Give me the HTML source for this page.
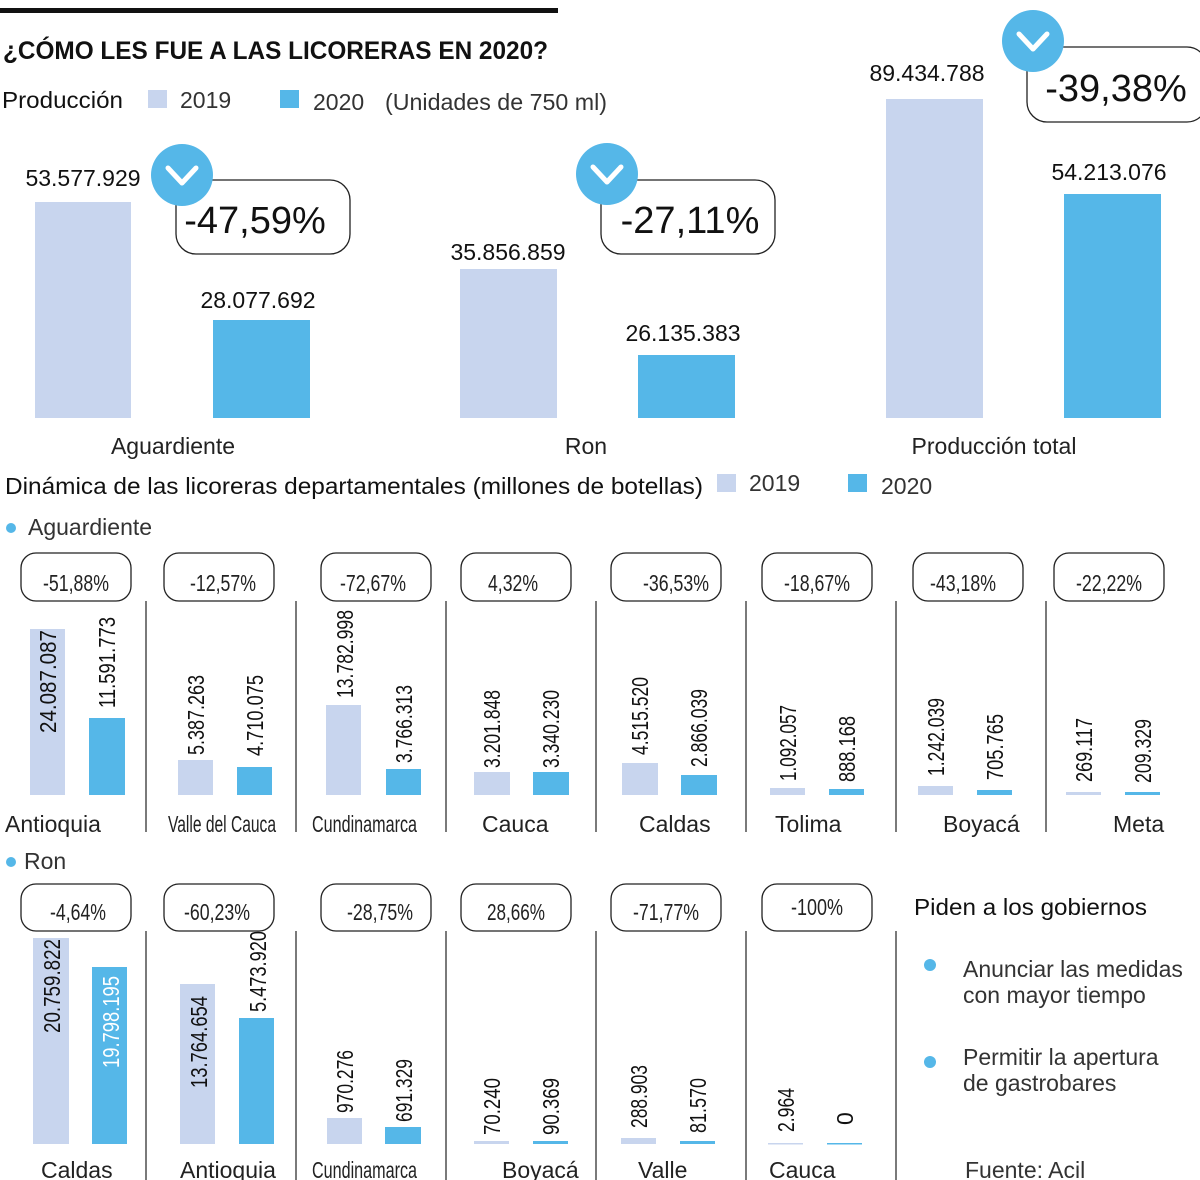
<!DOCTYPE html>
<html><head><meta charset="utf-8"><style>
html,body{margin:0;padding:0;background:#fff;}
svg{display:block;font-family:"Liberation Sans",sans-serif;}
.l{fill:#c8d5ee}.b{fill:#55b7e8}
.v{font-size:23px;fill:#111}
.p{font-size:23px;fill:#222}
.bx{fill:#fff;stroke:#222;stroke-width:1.3}
.dv{stroke:#333;stroke-width:1.3}
.cat{font-size:23px;fill:#222}
</style></head><body>
<svg width="1200" height="1180" viewBox="0 0 1200 1180" xmlns="http://www.w3.org/2000/svg">
<rect x="0" y="8" width="558" height="5" fill="#111"/>
<text x="3" y="59" font-size="25" font-weight="bold" fill="#111" textLength="545" lengthAdjust="spacingAndGlyphs">¿CÓMO LES FUE A LAS LICORERAS EN 2020?</text>
<text x="2" y="108" font-size="23" fill="#111" textLength="121" lengthAdjust="spacingAndGlyphs">Producción</text>
<rect x="148" y="90" width="19" height="18" class="l"/>
<text x="180" y="108" font-size="23" fill="#333">2019</text>
<rect x="280" y="90" width="19" height="18" class="b"/>
<text x="313" y="110" font-size="23" fill="#333">2020</text>
<text x="385" y="110" font-size="23" fill="#333" textLength="222" lengthAdjust="spacingAndGlyphs">(Unidades de 750 ml)</text>

<rect x="35" y="202" width="96" height="216" class="l"/>
<rect x="213" y="320" width="97" height="98" class="b"/>
<rect x="460" y="269" width="97" height="149" class="l"/>
<rect x="638" y="355" width="97" height="63" class="b"/>
<rect x="886" y="99" width="97" height="319" class="l"/>
<rect x="1064" y="194" width="97" height="224" class="b"/>
<g font-size="23" fill="#111" text-anchor="middle">
<text x="83" y="186">53.577.929</text>
<text x="258" y="308">28.077.692</text>
<text x="508" y="260">35.856.859</text>
<text x="683" y="341">26.135.383</text>
<text x="927" y="81">89.434.788</text>
<text x="1109" y="180">54.213.076</text>
</g>
<rect x="176" y="180" width="174" height="74" rx="20" class="bx"/>
<text x="255" y="233" font-size="38" text-anchor="middle" fill="#111">-47,59%</text>
<circle cx="182" cy="175" r="31" class="b"/>
<polyline points="168,168 182,183 196,168" fill="none" stroke="#fff" stroke-width="5" stroke-linecap="round" stroke-linejoin="round"/>
<rect x="601" y="180" width="174" height="74" rx="20" class="bx"/>
<text x="690" y="233" font-size="38" text-anchor="middle" fill="#111">-27,11%</text>
<circle cx="607" cy="174" r="31" class="b"/>
<polyline points="593,167 607,182 621,167" fill="none" stroke="#fff" stroke-width="5" stroke-linecap="round" stroke-linejoin="round"/>
<rect x="1027" y="47" width="180" height="75" rx="20" class="bx"/>
<text x="1116" y="101" font-size="38" text-anchor="middle" fill="#111">-39,38%</text>
<circle cx="1033" cy="41" r="31" class="b"/>
<polyline points="1019,34 1033,49 1047,34" fill="none" stroke="#fff" stroke-width="5" stroke-linecap="round" stroke-linejoin="round"/>
<g class="cat" text-anchor="middle">
<text x="173" y="454">Aguardiente</text>
<text x="586" y="454">Ron</text>
<text x="994" y="454">Producción total</text>
</g>

<text x="5" y="494" font-size="23" fill="#111" textLength="698" lengthAdjust="spacingAndGlyphs">Dinámica de las licoreras departamentales (millones de botellas)</text>
<rect x="717" y="474" width="19" height="18" class="l"/>
<text x="749" y="491" font-size="23" fill="#333">2019</text>
<rect x="848" y="474" width="19" height="18" class="b"/>
<text x="881" y="494" font-size="23" fill="#333">2020</text>

<circle cx="11" cy="528" r="5" class="b"/>
<text x="28" y="535" font-size="23" fill="#333">Aguardiente</text>
<circle cx="11" cy="862" r="5" class="b"/>
<text x="24" y="869" font-size="23" fill="#333">Ron</text>

<g class="dv">
<line x1="146" y1="601" x2="146" y2="832"/><line x1="296" y1="601" x2="296" y2="832"/><line x1="446" y1="601" x2="446" y2="832"/><line x1="596" y1="601" x2="596" y2="832"/><line x1="746" y1="601" x2="746" y2="832"/><line x1="896" y1="601" x2="896" y2="832"/><line x1="1046" y1="601" x2="1046" y2="832"/>
</g>
<g>
<rect x="21" y="553" width="110" height="48" rx="15" class="bx"/>
<rect x="164" y="553" width="110" height="48" rx="15" class="bx"/>
<rect x="321" y="553" width="110" height="48" rx="15" class="bx"/>
<rect x="461" y="553" width="110" height="48" rx="15" class="bx"/>
<rect x="611" y="553" width="110" height="48" rx="15" class="bx"/>
<rect x="762" y="553" width="110" height="48" rx="15" class="bx"/>
<rect x="913" y="553" width="110" height="48" rx="15" class="bx"/>
<rect x="1054" y="553" width="110" height="48" rx="15" class="bx"/>
</g>
<g class="p" text-anchor="middle">
<text x="76" y="591" textLength="66" lengthAdjust="spacingAndGlyphs">-51,88%</text>
<text x="223" y="591" textLength="66" lengthAdjust="spacingAndGlyphs">-12,57%</text>
<text x="373" y="591" textLength="66" lengthAdjust="spacingAndGlyphs">-72,67%</text>
<text x="513" y="591" textLength="50" lengthAdjust="spacingAndGlyphs">4,32%</text>
<text x="676" y="591" textLength="66" lengthAdjust="spacingAndGlyphs">-36,53%</text>
<text x="817" y="591" textLength="66" lengthAdjust="spacingAndGlyphs">-18,67%</text>
<text x="963" y="591" textLength="66" lengthAdjust="spacingAndGlyphs">-43,18%</text>
<text x="1109" y="591" textLength="66" lengthAdjust="spacingAndGlyphs">-22,22%</text>
</g>
<g>
<rect x="30" y="629" width="35" height="166" class="l"/><rect x="89" y="718" width="36" height="77" class="b"/>
<rect x="178" y="760" width="35" height="35" class="l"/><rect x="237" y="767" width="35" height="28" class="b"/>
<rect x="326" y="705" width="35" height="90" class="l"/><rect x="386" y="769" width="35" height="26" class="b"/>
<rect x="474" y="772" width="36" height="23" class="l"/><rect x="533" y="772" width="36" height="23" class="b"/>
<rect x="622" y="763" width="36" height="32" class="l"/><rect x="681" y="775" width="36" height="20" class="b"/>
<rect x="770" y="788" width="35" height="7" class="l"/><rect x="829" y="789" width="35" height="6" class="b"/>
<rect x="918" y="786" width="35" height="9" class="l"/><rect x="977" y="790" width="35" height="5" class="b"/>
<rect x="1066" y="792" width="35" height="3" class="l"/><rect x="1125" y="792" width="35" height="3" class="b"/>
</g>
<g class="v">
<text transform="translate(56,733) rotate(-90)" textLength="103" lengthAdjust="spacingAndGlyphs">24.087.087</text>
<text transform="translate(115,708) rotate(-90)" textLength="91" lengthAdjust="spacingAndGlyphs">11.591.773</text>
<text transform="translate(204,755) rotate(-90)" textLength="80" lengthAdjust="spacingAndGlyphs">5.387.263</text>
<text transform="translate(263,756) rotate(-90)" textLength="81" lengthAdjust="spacingAndGlyphs">4.710.075</text>
<text transform="translate(353,698) rotate(-90)" textLength="88" lengthAdjust="spacingAndGlyphs">13.782.998</text>
<text transform="translate(412,763) rotate(-90)" textLength="78" lengthAdjust="spacingAndGlyphs">3.766.313</text>
<text transform="translate(500,768) rotate(-90)" textLength="78" lengthAdjust="spacingAndGlyphs">3.201.848</text>
<text transform="translate(559,768) rotate(-90)" textLength="78" lengthAdjust="spacingAndGlyphs">3.340.230</text>
<text transform="translate(648,755) rotate(-90)" textLength="78" lengthAdjust="spacingAndGlyphs">4.515.520</text>
<text transform="translate(707,767) rotate(-90)" textLength="78" lengthAdjust="spacingAndGlyphs">2.866.039</text>
<text transform="translate(796,781) rotate(-90)" textLength="76" lengthAdjust="spacingAndGlyphs">1.092.057</text>
<text transform="translate(855,782) rotate(-90)" textLength="66" lengthAdjust="spacingAndGlyphs">888.168</text>
<text transform="translate(944,776) rotate(-90)" textLength="78" lengthAdjust="spacingAndGlyphs">1.242.039</text>
<text transform="translate(1003,780) rotate(-90)" textLength="66" lengthAdjust="spacingAndGlyphs">705.765</text>
<text transform="translate(1092,782) rotate(-90)" textLength="64" lengthAdjust="spacingAndGlyphs">269.117</text>
<text transform="translate(1151,783) rotate(-90)" textLength="64" lengthAdjust="spacingAndGlyphs">209.329</text>
</g>
<g class="cat">
<text x="5" y="832">Antioquia</text>
<text x="168" y="832" textLength="108" lengthAdjust="spacingAndGlyphs">Valle del Cauca</text>
<text x="312" y="832" textLength="105" lengthAdjust="spacingAndGlyphs">Cundinamarca</text>
<text x="482" y="832">Cauca</text>
<text x="639" y="832">Caldas</text>
<text x="775" y="832">Tolima</text>
<text x="943" y="832">Boyacá</text>
<text x="1113" y="832">Meta</text>
</g>

<g class="dv">
<line x1="146" y1="931" x2="146" y2="1180"/><line x1="296" y1="931" x2="296" y2="1180"/><line x1="446" y1="931" x2="446" y2="1180"/><line x1="596" y1="931" x2="596" y2="1180"/><line x1="746" y1="931" x2="746" y2="1180"/><line x1="896" y1="931" x2="896" y2="1180"/>
</g>
<g>
<rect x="21" y="884" width="110" height="47" rx="15" class="bx"/>
<rect x="164" y="884" width="110" height="47" rx="15" class="bx"/>
<rect x="321" y="884" width="110" height="47" rx="15" class="bx"/>
<rect x="461" y="884" width="110" height="47" rx="15" class="bx"/>
<rect x="611" y="884" width="110" height="47" rx="15" class="bx"/>
<rect x="762" y="884" width="110" height="47" rx="15" class="bx"/>
</g>
<g class="p" text-anchor="middle">
<text x="78" y="920" textLength="56" lengthAdjust="spacingAndGlyphs">-4,64%</text>
<text x="217" y="920" textLength="66" lengthAdjust="spacingAndGlyphs">-60,23%</text>
<text x="380" y="920" textLength="66" lengthAdjust="spacingAndGlyphs">-28,75%</text>
<text x="516" y="920" textLength="58" lengthAdjust="spacingAndGlyphs">28,66%</text>
<text x="666" y="920" textLength="66" lengthAdjust="spacingAndGlyphs">-71,77%</text>
<text x="817" y="915" textLength="52" lengthAdjust="spacingAndGlyphs">-100%</text>
</g>
<g>
<rect x="33" y="938" width="36" height="206" class="l"/><rect x="92" y="967" width="35" height="177" class="b"/>
<rect x="180" y="984" width="35" height="160" class="l"/><rect x="239" y="1018" width="35" height="126" class="b"/>
<rect x="327" y="1118" width="35" height="26" class="l"/><rect x="385" y="1127" width="36" height="17" class="b"/>
<rect x="474" y="1141" width="35" height="3" class="l"/><rect x="533" y="1141" width="35" height="3" class="b"/>
<rect x="621" y="1138" width="35" height="6" class="l"/><rect x="680" y="1141" width="35" height="3" class="b"/>
<rect x="768" y="1143" width="35" height="1.5" class="l"/><rect x="827" y="1143" width="35" height="1.5" class="b"/>
</g>
<g class="v">
<text transform="translate(60,1033) rotate(-90)" textLength="94" lengthAdjust="spacingAndGlyphs">20.759.822</text>
<text transform="translate(119,1068) rotate(-90)" textLength="92" lengthAdjust="spacingAndGlyphs" fill="#fff">19.798.195</text>
<text transform="translate(207,1088) rotate(-90)" textLength="92" lengthAdjust="spacingAndGlyphs">13.764.654</text>
<text transform="translate(266,1012) rotate(-90)" textLength="81" lengthAdjust="spacingAndGlyphs">5.473.920</text>
<text transform="translate(353,1113) rotate(-90)" textLength="63" lengthAdjust="spacingAndGlyphs">970.276</text>
<text transform="translate(412,1122) rotate(-90)" textLength="63" lengthAdjust="spacingAndGlyphs">691.329</text>
<text transform="translate(500,1135) rotate(-90)" textLength="57" lengthAdjust="spacingAndGlyphs">70.240</text>
<text transform="translate(559,1135) rotate(-90)" textLength="57" lengthAdjust="spacingAndGlyphs">90.369</text>
<text transform="translate(647,1128) rotate(-90)" textLength="63" lengthAdjust="spacingAndGlyphs">288.903</text>
<text transform="translate(706,1133) rotate(-90)" textLength="55" lengthAdjust="spacingAndGlyphs">81.570</text>
<text transform="translate(794,1132) rotate(-90)" textLength="44" lengthAdjust="spacingAndGlyphs">2.964</text>
<text transform="translate(853,1125) rotate(-90)">0</text>
</g>
<g class="cat">
<text x="41" y="1178">Caldas</text>
<text x="180" y="1178">Antioquia</text>
<text x="312" y="1178" textLength="105" lengthAdjust="spacingAndGlyphs">Cundinamarca</text>
<text x="502" y="1178">Boyacá</text>
<text x="638" y="1178">Valle</text>
<text x="769" y="1178">Cauca</text>
</g>

<text x="914" y="915" font-size="23" fill="#111" textLength="233" lengthAdjust="spacingAndGlyphs">Piden a los gobiernos</text>
<circle cx="930" cy="965" r="6" class="b"/>
<text x="963" y="977" font-size="23" fill="#333">Anunciar las medidas</text>
<text x="963" y="1003" font-size="23" fill="#333">con mayor tiempo</text>
<circle cx="930" cy="1062" r="6" class="b"/>
<text x="963" y="1065" font-size="23" fill="#333">Permitir la apertura</text>
<text x="963" y="1091" font-size="23" fill="#333">de gastrobares</text>
<text x="965" y="1178" font-size="23" fill="#333">Fuente: Acil</text>
</svg>
</body></html>
